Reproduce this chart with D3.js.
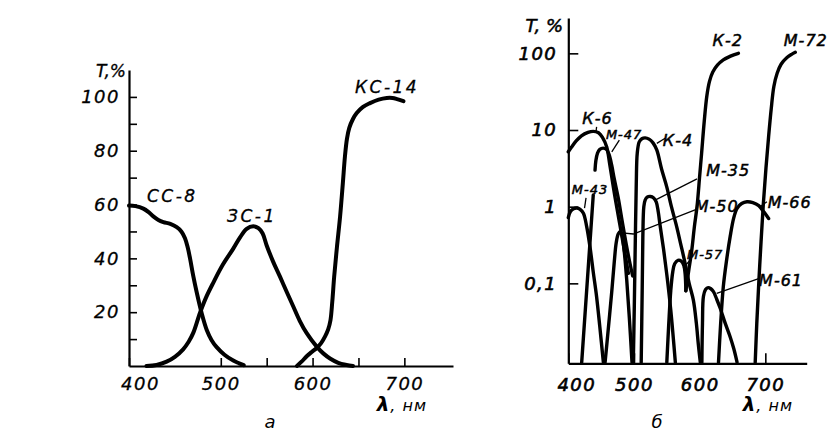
<!DOCTYPE html>
<html>
<head>
<meta charset="utf-8">
<script src="https://cdn.jsdelivr.net/npm/d3@7"></script>
<style>
  body { margin: 0; background: #fff; }
  svg text { font-family: "DejaVu Sans", sans-serif; font-style: italic; fill: #000; }
</style>
</head>
<body>
<svg id="chart" width="839" height="434"></svg>
<script>
// ---------- data: panel а (linear T, %) ----------
const ticksXA = [400, 500, 550, 600, 650, 700];
const labelledXA = [400, 500, 600, 700];
const ticksYA = [10, 20, 30, 40, 50, 60, 70, 80, 90, 100];
const labelledYA = [20, 40, 60, 80, 100];

const cc8 = [[400, 59.6], [407, 59.4], [415.6, 58.5], [421, 57.3], [426.5, 55.6], [432, 54.3], [437.4, 53.5],
  [445, 52.8], [452, 51.6], [457, 50], [461, 47.5], [464, 44], [466.5, 40], [470, 33.5], [473.7, 27.5],
  [479.2, 19.6], [484.7, 13.4], [490, 9.6], [495.5, 7.0], [504, 4.2], [513.6, 2.0], [520, 1.0], [525, 0.3]];
const zs1 = [[419, 0], [430, 0.4], [441, 1.6], [450, 3.4], [459, 6.2], [465, 9], [470, 12.3], [477.4, 19.8],
  [484, 25.5], [491.9, 31], [502, 37.5], [513.6, 43.6], [521, 47.8], [528.2, 51], [535.4, 51.9], [541, 51.2],
  [545.5, 49.3], [550, 44.8], [557, 38.8], [564.5, 33.2], [572, 27.4], [579, 22.1], [586, 16.8], [593.6, 12.2],
  [604.5, 7.2], [612, 4.6], [619, 2.8], [628, 1.2], [637, 0.4], [644, 0]];
const ks14 = [[583, 0], [588, 1.6], [593.6, 3.6], [599, 5.2], [604.5, 6.7], [609.5, 8.6], [613.5, 10.9],
  [617, 13.6], [619.5, 17], [621.5, 24], [623.5, 33], [626.5, 44], [630, 55.6], [633, 68], [635.3, 78],
  [637.5, 84.5], [640, 88.5], [644, 91.8], [648.1, 94], [655, 96.3], [662.6, 97.7], [672, 99], [680.8, 99.6],
  [687, 99.6], [692, 99.2], [699, 98.4]];

const labelsA = [["СС-8", 419.6, 61], ["ЗС-1", 506.8, 53.6], ["КС-14", 646.2, 101.6]];

// ---------- data: panel б (log T, %) ----------
const ticksXB = [400, 500, 600, 700];
const ticksYB = [0.1, 1, 10, 100];

const k6 = [[400, 5.2], [405, 6.0], [412, 7.2], [420, 8.4], [430, 9.3], [438, 9.6], [446, 9.2], [452, 8.0],
  [458.5, 6.0], [463, 3.6], [467, 2.2], [471, 1.35], [476, 0.77], [481, 0.44], [486, 0.25], [491.5, 0.135]];
const m47 = [[440.7, 3.0], [442, 4.0], [444.5, 5.0], [448, 5.6], [453, 5.8], [458, 5.6], [462, 4.8], [466, 3.5],
  [470, 2.3], [476, 1.3], [482, 0.65], [488, 0.33], [494, 0.18], [498, 0.125]];
const m47Edge = [[420.4, 0.0093], [438, 1.42]];
const m43 = [[400, 0.72], [403, 0.86], [408, 0.94], [413, 0.96], [418, 0.92], [423, 0.82], [428, 0.55],
  [433, 0.3], [438, 0.14], [443, 0.068], [448, 0.027], [453.4, 0.0093]];
const m50 = [[456, 0.0093], [461, 0.026], [466, 0.075], [470, 0.19], [473, 0.34], [476, 0.44], [479, 0.47],
  [482, 0.42], [485, 0.27], [489, 0.11], [493, 0.035], [497, 0.0093]];
const k4 = [[499, 0.0093], [500.5, 0.05], [502, 0.35], [503.5, 2.0], [505, 5.0], [508, 7.0], [512, 7.7],
  [517, 7.9], [523, 7.6], [529, 6.8], [534.7, 5.5], [542, 3.1], [550, 1.8], [557, 1.0], [565, 0.55],
  [571, 0.33], [578, 0.18], [584, 0.1], [590.5, 0.06], [595, 0.03], [598, 0.016], [601, 0.0093]];
const m35 = [[511, 0.0093], [512.5, 0.08], [513.5, 0.4], [515, 1.0], [517, 1.22], [520, 1.33], [525, 1.36],
  [530, 1.3], [534, 1.15], [537, 0.85], [540, 0.55], [545, 0.28], [550, 0.13], [556, 0.045], [563, 0.0093]];
const m57 = [[550, 0.0093], [553, 0.03], [556, 0.08], [559, 0.14], [562, 0.18], [567, 0.2], [572, 0.195],
  [576, 0.17], [578, 0.13], [579, 0.08]];
const k2 = [[579, 0.08], [583, 0.14], [588, 0.27], [592, 0.55], [596, 1.0], [600, 2.5], [603, 5.0], [607, 13],
  [611, 28], [615, 43], [620, 57], [627, 70], [636, 82], [647, 92], [659, 100]];
const m61 = [[603.4, 0.0093], [604.3, 0.03], [605.8, 0.068], [609, 0.083], [613, 0.088], [617, 0.085],
  [621, 0.078], [626, 0.062], [631, 0.048], [639, 0.03], [646.5, 0.02], [652, 0.014], [657, 0.0093]];
const m66 = [[628.7, 0.0093], [632, 0.03], [636, 0.09], [641, 0.2], [646.5, 0.41], [652, 0.72], [657, 0.95],
  [664, 1.1], [672, 1.16], [681, 1.13], [690, 1.03], [698, 0.85], [705, 0.7]];
const m72 = [[684.6, 0.0093], [687, 0.03], [690, 0.1], [693.5, 0.35], [697, 1.1], [701, 3.2], [705, 8.2],
  [709, 19], [713, 37], [718, 55], [724, 72], [733, 88], [740, 97], [745.6, 103]];

const labelsB = [["К-2", 642.7, 124], ["М-72", 761.6, 124], ["К-6", 444.5, 12.0], ["М-47", 485, 7.6],
  ["К-4", 567, 6.2], ["М-35", 643.4, 2.5], ["М-50", 626, 0.85], ["М-43", 433, 1.47],
  ["М-66", 737.2, 0.96], ["М-57", 608.4, 0.21], ["М-61", 724, 0.093]];
const smallLabels = ["М-43", "М-47", "М-57"];

// leader lines from curve to its label
const leadersB = [
  [[442, 9.1], [443.1, 11.0]],
  [[466.2, 5.2], [477.7, 7.4]],
  [[534.8, 6.7], [547.4, 7.8]],
  [[532.2, 1.22], [596, 2.3]],
  [[478, 0.46], [499, 0.44], [595, 0.92]],
  [[424.7, 0.96], [427, 1.3]],
  [[692, 1.0], [702.4, 1.16]],
  [[575, 0.16], [585.5, 0.2]],
  [[626, 0.074], [692, 0.117]]
];

// ---------- helpers ----------
const svg = d3.select('#chart');

function curveGen(x, y) {
  return d3.line()
    .x(d => x(d[0]))
    .y(d => y(d[1]))
    .curve(d3.curveCatmullRom.alpha(0.5));
}

// weight = thin outline that thickens the glyphs a bit (print is heavier than the font)
function styleAxis(g, size, weight) {
  g.attr('font-family', null).attr('font-size', null);
  g.select('.domain').attr('stroke', '#000').attr('stroke-width', 2.2);
  g.selectAll('.tick line').attr('stroke', '#000').attr('stroke-width', 1.6);
  g.selectAll('.tick text').attr('font-size', size).attr('letter-spacing', 1.5)
    .attr('stroke', '#000').attr('stroke-width', weight);
}

/* ---------- panel а ---------- */
const xA = d3.scaleLinear().domain([400, 753]).range([129, 453]);
const yA = d3.scaleLinear().domain([0, 110]).range([366, 70]);
const pA = svg.append('g');

pA.append('g')
  .attr('transform', `translate(0,${yA(0)})`)
  .call(d3.axisBottom(xA).tickValues(ticksXA).tickSize(-8).tickSizeOuter(0).tickPadding(11)
    .tickFormat(d => labelledXA.includes(d) ? d : ''))
  .call(g => styleAxis(g, 18, 0.3))
  .call(g => g.selectAll('.tick').filter(d => d === 400).select('text').attr('dx', 11));

pA.append('g')
  .attr('transform', `translate(${xA(400)},0)`)
  .call(d3.axisLeft(yA).tickValues(ticksYA).tickSize(-8).tickSizeOuter(0).tickPadding(9)
    .tickFormat(d => labelledYA.includes(d) ? d : ''))
  .call(g => styleAxis(g, 18, 0.3));

[cc8, zs1, ks14].forEach(s => {
  pA.append('path').attr('d', curveGen(xA, yA)(s))
    .attr('fill', 'none').attr('stroke', '#000').attr('stroke-width', 4).attr('stroke-linecap', 'round');
});

pA.selectAll('text.lab').data(labelsA).enter().append('text')
  .attr('class', 'lab')
  .attr('x', d => xA(d[1])).attr('y', d => yA(d[2]))
  .attr('font-size', 17).attr('letter-spacing', 2.5)
  .attr('stroke', '#000').attr('stroke-width', 0.3)
  .text(d => d[0]);

pA.append('text').attr('x', xA(400) - 3).attr('y', 77).attr('text-anchor', 'end')
  .attr('font-size', 17).attr('stroke', '#000').attr('stroke-width', 0.3).text('T,%');
pA.append('text').attr('x', 427).attr('y', 411).attr('text-anchor', 'end').attr('font-size', 16)
  .attr('letter-spacing', 1)
  .html('<tspan font-weight="bold" font-size="20">λ</tspan>, нм');
pA.append('text').attr('x', 270).attr('y', 428).attr('text-anchor', 'middle').attr('font-size', 18).text('а');

/* ---------- panel б ---------- */
const xB = d3.scaleLinear().domain([400, 763]).range([568.3, 806.7]);
const yB = d3.scaleLog().domain([0.00906, 289]).range([363.3, 18]);
const pB = svg.append('g');

pB.append('g')
  .attr('transform', `translate(0,${yB.range()[0]})`)
  .call(d3.axisBottom(xB).tickValues(ticksXB).tickSize(-10).tickSizeOuter(0).tickPadding(15)
    .tickFormat(d => d))
  .call(g => styleAxis(g, 18, 0.6))
  .call(g => g.selectAll('.tick').filter(d => d === 400).select('text').attr('dx', 8));

pB.append('g')
  .attr('transform', `translate(${xB(400)},0)`)
  .call(d3.axisLeft(yB).tickValues(ticksYB).tickSize(-10).tickSizeOuter(0).tickPadding(11)
    .tickFormat(d => String(d).replace('.', ',')))
  .call(g => styleAxis(g, 18, 0.6));

[k6, m47, m47Edge, m43, m50, k4, m35, m57, k2, m61, m66, m72].forEach(s => {
  pB.append('path').attr('d', curveGen(xB, yB)(s))
    .attr('fill', 'none').attr('stroke', '#000').attr('stroke-width', 3.4).attr('stroke-linecap', 'round');
});

leadersB.forEach(l => {
  pB.append('path').attr('d', d3.line().x(d => xB(d[0])).y(d => yB(d[1]))(l))
    .attr('fill', 'none').attr('stroke', '#000').attr('stroke-width', 1.3);
});

pB.selectAll('text.lab').data(labelsB).enter().append('text')
  .attr('class', 'lab')
  .attr('x', d => xB(d[1])).attr('y', d => yB(d[2]))
  .attr('text-anchor', 'middle')
  .attr('font-size', d => smallLabels.includes(d[0]) ? 13 : 16)
  .attr('stroke', '#000').attr('stroke-width', 0.5).attr('letter-spacing', 1)
  .text(d => d[0]);

pB.append('text').attr('x', 563).attr('y', 32).attr('text-anchor', 'end')
  .attr('font-size', 18).attr('stroke', '#000').attr('stroke-width', 0.5).text('T, %');
pB.append('text').attr('x', 793).attr('y', 411).attr('text-anchor', 'end').attr('font-size', 16)
  .attr('letter-spacing', 1)
  .html('<tspan font-weight="bold" font-size="20">λ</tspan>, нм');
pB.append('text').attr('x', 657).attr('y', 428).attr('text-anchor', 'middle').attr('font-size', 18).text('б');
</script>
</body>
</html>
